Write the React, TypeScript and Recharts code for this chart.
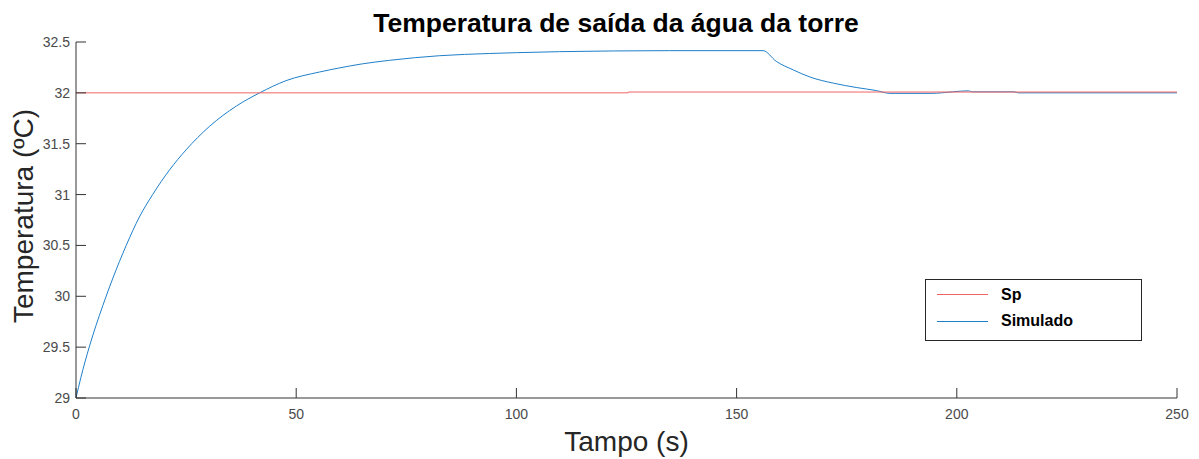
import React from 'react';
import { LineChart, Line, XAxis, YAxis, Label } from 'recharts';

// ---- data ----
const simTime = [0, 1.1, 3.0, 6.1, 8.3, 11.4, 14.4, 17.4, 21.2, 25.0, 30.3, 36.4, 41.7, 47.7, 55.3, 59.8, 65.0, 71.2, 82.5, 93.9, 100, 109.8, 122, 134.8, 156, 159, 162.9, 166.7, 172, 177.3, 181.8, 184.8, 194.4, 196.5, 199, 202.7, 203.5, 213, 214, 250];
const simValues = [29.0, 29.2, 29.5, 29.91, 30.17, 30.5, 30.78, 31.0, 31.24, 31.44, 31.67, 31.87, 32.0, 32.12, 32.205, 32.245, 32.285, 32.32, 32.365, 32.387, 32.395, 32.405, 32.412, 32.415, 32.415, 32.31, 32.225, 32.155, 32.095, 32.052, 32.022, 31.995, 31.995, 32.0, 32.01, 32.02, 32.01, 32.01, 32.0, 32.0];
const spTime = [0, 125.4, 125.4, 250];
const spValues = [32.0, 32.0, 32.008, 32.008];

const xTicks = [0, 50, 100, 150, 200, 250];
const yTicks = [29, 29.5, 30, 30.5, 31, 31.5, 32, 32.5];

const titleText = 'Temperatura de saída da água da torre';
const xLabelText = 'Tampo (s)';
const yLabelText = 'Temperatura (ºC)';
const legendNames = ['Sp', 'Simulado'];

const simData = simTime.map((t, i) => ({ t, v: simValues[i] }));
const spData = spTime.map((t, i) => ({ t, v: spValues[i] }));

// ---- layout ----
const W = 1199;
const H = 459;
const PL = 76; // plot left
const PT = 42; // plot top
const PR = 1177; // plot right
const PB = 398; // plot bottom

const RED = '#f26464';
const BLUE = '#1f7fc9';
const legendColors = [RED, BLUE];

const FONT = '"Liberation Sans", Arial, Helvetica, sans-serif';
const AXIS = '#333333';
const TICKTXT = '#4a4a4a';
const TL = 10;

const BottomTick = (p: any) => (
  <g>
    <line x1={p.x} x2={p.x} y1={PB} y2={PB - TL} stroke={AXIS} strokeWidth={1} />
    <text x={p.x} y={PB + 21} textAnchor="middle" fontSize={14} fontFamily={FONT} fill={TICKTXT}>
      {p.payload.value}
    </text>
  </g>
);
const TopTick = (p: any) => (
  <line x1={p.x} x2={p.x} y1={PT} y2={PT + TL} stroke={AXIS} strokeWidth={1} />
);
const LeftTick = (p: any) => (
  <g>
    <line x1={PL} x2={PL + TL} y1={p.y} y2={p.y} stroke={AXIS} strokeWidth={1} />
    <text x={PL - 6} y={p.y + 5} textAnchor="end" fontSize={14} fontFamily={FONT} fill={TICKTXT}>
      {p.payload.value}
    </text>
  </g>
);
const RightTick = (p: any) => (
  <line x1={PR} x2={PR - TL} y1={p.y} y2={p.y} stroke={AXIS} strokeWidth={1} />
);

const LegendBox = () => (
  <div
    style={{
      width: 215,
      height: 60,
      border: '1px solid #262626',
      background: '#fff',
      position: 'relative',
      fontFamily: FONT,
      boxSizing: 'content-box',
    }}
  >
    {legendNames.map((n, i) => (
      <div key={n}>
        <div
          style={{
            position: 'absolute',
            left: 11,
            top: 14 + i * 27,
            width: 51,
            height: 1,
            background: legendColors[i],
          }}
        />
        <div
          style={{
            position: 'absolute',
            left: 75,
            top: 5 + i * 26,
            fontSize: 16,
            fontWeight: 'bold',
            color: '#000',
            lineHeight: '20px',
          }}
        >
          {n}
        </div>
      </div>
    ))}
  </div>
);

export default function App() {
  return (
    <div style={{ position: 'absolute', left: 0, top: 0, width: W, height: H, background: '#fff' }}>
      <LineChart width={W} height={H} margin={{ top: PT, right: W - PR, bottom: 0, left: 0 }}>
        <XAxis
          xAxisId="b"
          dataKey="t"
          type="number"
          domain={[0, 250]}
          ticks={xTicks}
          interval={0}
          height={H - PB}
          tickSize={0}
          tickMargin={0}
          tick={BottomTick}
          axisLine={{ stroke: AXIS, strokeWidth: 1 }}
          allowDataOverflow
        >
          <Label
            content={() => (
              <text x={(PL + PR) / 2} y={451} textAnchor="middle" fontSize={28} fontFamily={FONT} fill="#262626">
                {xLabelText}
              </text>
            )}
          />
        </XAxis>
        <XAxis
          xAxisId="top"
          orientation="top"
          dataKey="t"
          type="number"
          domain={[0, 250]}
          ticks={xTicks}
          interval={0}
          height={0}
          tickSize={0}
          tickMargin={0}
          tick={TopTick}
          axisLine={{ stroke: AXIS, strokeWidth: 1 }}
          allowDataOverflow
        />
        <YAxis
          yAxisId="l"
          type="number"
          domain={[29, 32.5]}
          ticks={yTicks}
          interval={0}
          width={PL}
          tickSize={0}
          tickMargin={0}
          tick={LeftTick}
          axisLine={{ stroke: AXIS, strokeWidth: 1 }}
          allowDataOverflow
        >
          <Label
            content={() => {
              const cx = 33;
              const cy = 216;
              return (
                <g>
                  <text x={cx} y={cy} transform={`rotate(-90 ${cx} ${cy})`} textAnchor="middle" fontSize={28} fontFamily={FONT} fill="#262626">
                    {yLabelText}
                  </text>
                  <text x={616} y={32} textAnchor="middle" fontSize={26.5} fontWeight="bold" fontFamily={FONT} fill="#000">
                    {titleText}
                  </text>
                </g>
              );
            }}
          />
        </YAxis>
        <YAxis
          yAxisId="r"
          orientation="right"
          type="number"
          domain={[29, 32.5]}
          ticks={yTicks}
          interval={0}
          width={0}
          tickSize={0}
          tickMargin={0}
          tick={RightTick}
          axisLine={{ stroke: AXIS, strokeWidth: 1 }}
          allowDataOverflow
        />
        <Line
          data={simData}
          xAxisId="b"
          yAxisId="l"
          dataKey="v"
          type="monotone"
          stroke={BLUE}
          strokeWidth={1}
          dot={false}
          isAnimationActive={false}
          name={legendNames[1]}
        />
        <Line
          data={spData}
          xAxisId="b"
          yAxisId="l"
          dataKey="v"
          type="linear"
          stroke={RED}
          strokeWidth={1}
          dot={false}
          isAnimationActive={false}
          name={legendNames[0]}
        />
      </LineChart>
      <div style={{ position: 'absolute', left: 925, top: 279 }}>
        <LegendBox />
      </div>
    </div>
  );
}
